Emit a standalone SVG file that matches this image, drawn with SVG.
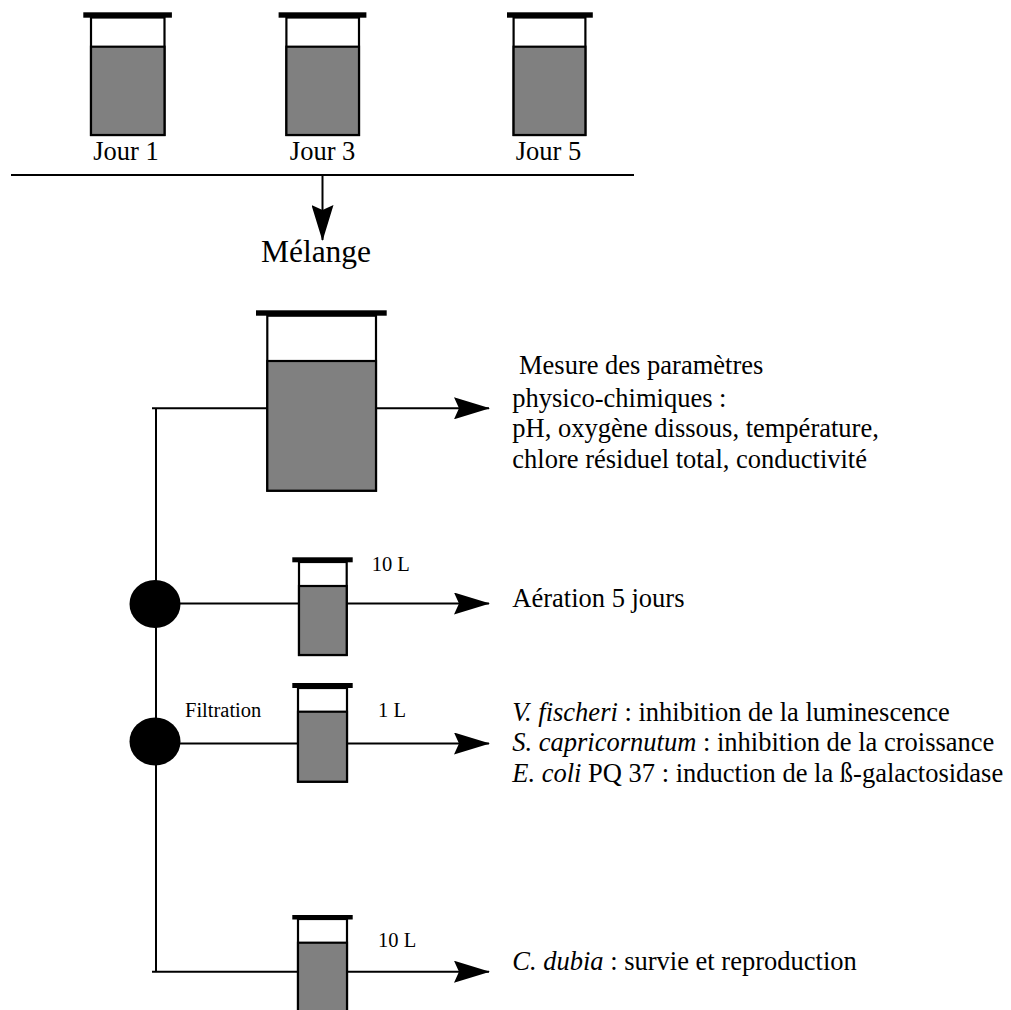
<svg xmlns="http://www.w3.org/2000/svg" width="1011" height="1010" viewBox="0 0 1011 1010">
<style>
.body{fill:#ffffff;stroke:#000;stroke-width:2.2}
.liq{fill:#808080;stroke:#000;stroke-width:2.2}
.cap{fill:#000}
.ln{fill:none;stroke:#000;stroke-width:2}
.t{font-family:"Liberation Serif","Times New Roman",serif;fill:#000}
.big{font-size:26.5px}
.sm{font-size:20.5px}
.it{font-style:italic}
</style>
<defs>
<marker id="arr" markerUnits="userSpaceOnUse" markerWidth="36" markerHeight="22" refX="35" refY="11" orient="auto" viewBox="0 0 36 22">
<path d="M0,0 L36,11 L0,22 L5,11 Z" fill="#000"/>
</marker>
</defs>
<rect width="1011" height="1010" fill="#fff"/>

<g id="connectors">
<line class="ln" x1="11" y1="175" x2="634" y2="175"/>
<line class="ln" x1="322.5" y1="175" x2="322.5" y2="240" marker-end="url(#arr)"/>
<line class="ln" x1="156" y1="408" x2="156" y2="972"/>
<line class="ln" x1="152" y1="408.3" x2="489" y2="408.3" marker-end="url(#arr)"/>
<line class="ln" x1="156" y1="603.5" x2="489" y2="603.5" marker-end="url(#arr)"/>
<line class="ln" x1="156" y1="743.5" x2="489" y2="743.5" marker-end="url(#arr)"/>
<line class="ln" x1="152" y1="971.7" x2="489" y2="971.7" marker-end="url(#arr)"/>
</g>

<g id="jour1">
<rect class="body" x="91" y="17.5" width="73.5" height="117.5"/>
<rect class="liq" x="91" y="46.7" width="73.5" height="88.3"/>
<rect class="cap" x="83.3" y="12.3" width="88.6" height="5.4"/>
<text class="t big" x="126" y="159.5" text-anchor="middle" font-size="26">Jour 1</text>
</g>
<g id="jour3">
<rect class="body" x="286.4" y="17.5" width="72.6" height="117.5"/>
<rect class="liq" x="286.4" y="46.7" width="72.6" height="88.3"/>
<rect class="cap" x="278.6" y="12.3" width="87.8" height="5.4"/>
<text class="t big" x="322.6" y="159.5" text-anchor="middle">Jour 3</text>
</g>
<g id="jour5">
<rect class="body" x="513.6" y="17.5" width="71.8" height="117.5"/>
<rect class="liq" x="513.6" y="46.7" width="71.8" height="88.3"/>
<rect class="cap" x="507" y="12.3" width="85.8" height="5.4"/>
<text class="t big" x="548.5" y="159.5" text-anchor="middle">Jour 5</text>
</g>

<g id="melange">
<text class="t" x="316" y="261.7" text-anchor="middle" font-size="31.5">Mélange</text>
</g>

<g id="grand-recipient">
<rect class="body" x="267.3" y="315.7" width="108.7" height="175"/>
<rect class="liq" x="267.3" y="361" width="108.7" height="129.7"/>
<rect class="cap" x="256" y="310.3" width="130.7" height="5.4"/>
</g>

<g id="mesure">
<text class="t big" x="519" y="374">Mesure des paramètres</text>
<text class="t big" x="512.3" y="406.7">physico-chimiques :</text>
<text class="t big" x="512.3" y="437.3">pH, oxygène dissous, température,</text>
<text class="t big" x="512.3" y="467.7">chlore résiduel total, conductivité</text>
</g>

<g id="noeud1">
<ellipse cx="155" cy="604" rx="25.5" ry="24" fill="#000"/>
</g>
<g id="aeration-recipient">
<rect class="body" x="299" y="562" width="47.7" height="93"/>
<rect class="liq" x="299" y="586" width="47.7" height="69"/>
<rect class="cap" x="292.3" y="557.3" width="60.4" height="5"/>
<text class="t sm" x="371.7" y="570.7">10 L</text>
</g>
<g id="aeration">
<text class="t big" x="512.3" y="606.7">Aération 5 jours</text>
</g>

<g id="noeud2">
<ellipse cx="155" cy="741.5" rx="25.5" ry="24" fill="#000"/>
<text class="t sm" x="185" y="717.3">Filtration</text>
</g>
<g id="filtration-recipient">
<rect class="body" x="298" y="688" width="49" height="93.7"/>
<rect class="liq" x="298" y="711.7" width="49" height="70"/>
<rect class="cap" x="292.3" y="683" width="60.4" height="5"/>
<text class="t sm" x="378" y="717.3">1 L</text>
</g>
<g id="bioessais">
<text class="t big" x="512.3" y="720.7"><tspan class="it">V. fischeri</tspan> : inhibition de la luminescence</text>
<text class="t big" x="512.3" y="751"><tspan class="it">S. capricornutum</tspan> : inhibition de la croissance</text>
<text class="t big" x="512.3" y="781.7"><tspan class="it">E. coli</tspan> PQ 37 : induction de la ß-galactosidase</text>
</g>

<g id="dubia-recipient">
<rect class="body" x="298" y="919" width="49" height="100"/>
<rect class="liq" x="298" y="942.7" width="49" height="76"/>
<rect class="cap" x="292.3" y="915" width="60.4" height="4.5"/>
<text class="t sm" x="378" y="946.7">10 L</text>
</g>
<g id="dubia">
<text class="t big" x="512.3" y="970"><tspan class="it">C. dubia</tspan> : survie et reproduction</text>
</g>
</svg>
